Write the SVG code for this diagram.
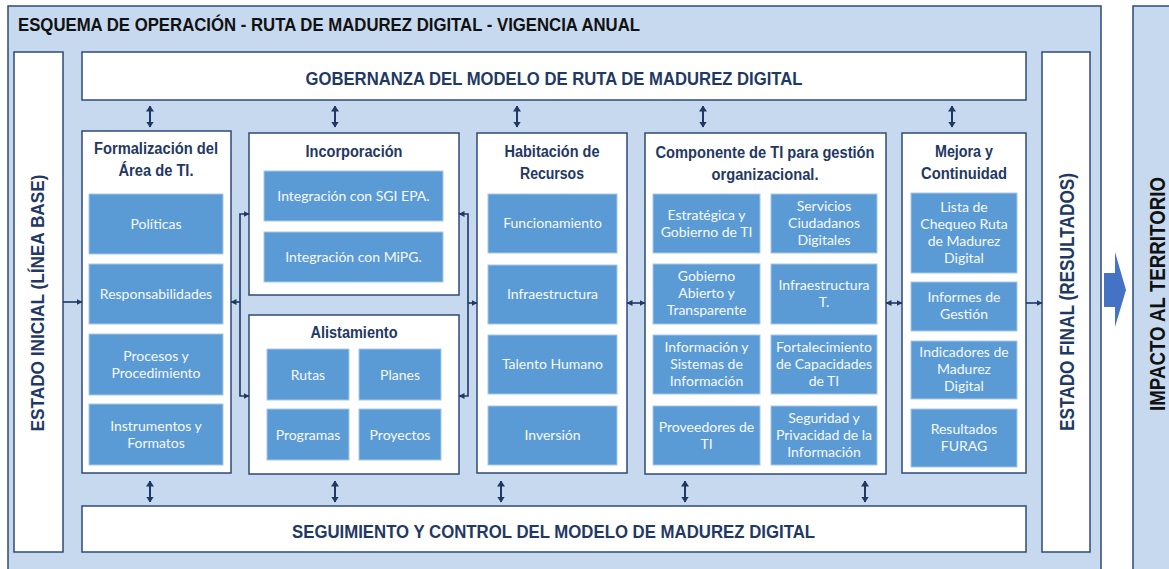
<svg xmlns="http://www.w3.org/2000/svg" width="1169" height="569" viewBox="0 0 1169 569">
<style>
.frame{fill:#c6d9ee;stroke:#2f4a7a;stroke-width:1.5}
.wbox{fill:#ffffff;stroke:#2f4a7a;stroke-width:1.5}
.ibox{fill:#5b9bd5;stroke:#a9c8e8;stroke-width:1}
.itxt{font-family:Lato,"Open Sans",sans-serif;font-size:14px;fill:#f6f9fc;text-anchor:middle}
.head{font-family:"Liberation Sans",Arial,sans-serif;font-weight:bold;font-size:16px;fill:#1f3864;text-anchor:middle}
.big{font-family:"Liberation Sans",Arial,sans-serif;font-weight:bold;fill:#1f3864;text-anchor:middle}
.conn{fill:none;stroke:#1f3864;stroke-width:1.6}
.vconn{fill:none;stroke:#1f3864;stroke-width:2}
</style>
<defs>
<marker id="ah" viewBox="0 0 6 6" refX="5.5" refY="3" markerWidth="6" markerHeight="6" markerUnits="userSpaceOnUse" orient="auto-start-reverse">
<path d="M0,0 L6,3 L0,6 z" fill="#1f3864"/>
</marker>
<marker id="av" viewBox="0 0 6 8" refX="5.5" refY="4" markerWidth="6" markerHeight="8" markerUnits="userSpaceOnUse" orient="auto-start-reverse">
<path d="M0,0 L6,4 L0,8 z" fill="#1f3864"/>
</marker>
</defs>

<g id="frame">
<rect class="frame" x="8" y="6" width="1093" height="580"/>
<text x="18" y="31" font-family="Liberation Sans,Arial,sans-serif" font-weight="bold" font-size="19" fill="#111" textLength="622" lengthAdjust="spacingAndGlyphs">ESQUEMA DE OPERACIÓN - RUTA DE MADUREZ DIGITAL - VIGENCIA ANUAL</text>
</g>

<g id="impacto">
<rect class="frame" x="1133" y="6" width="60" height="580"/>
<text class="big" transform="translate(1165,294) rotate(-90)" font-size="22" style="fill:#111" textLength="234" lengthAdjust="spacingAndGlyphs">IMPACTO AL TERRITORIO</text>
</g>

<g id="flecha-impacto">
<polygon points="1104,273 1115,273 1115,252 1126,290 1115,327 1115,307 1104,307" fill="#4472c4"/>
</g>

<g id="estado-inicial">
<rect class="wbox" x="14" y="52" width="49" height="500"/>
<text class="big" transform="translate(44,303) rotate(-90)" font-size="19" textLength="257" lengthAdjust="spacingAndGlyphs">ESTADO INICIAL (LÍNEA BASE)</text>
</g>

<g id="estado-final">
<rect class="wbox" x="1042" y="52" width="48" height="500"/>
<text class="big" transform="translate(1074,302) rotate(-90)" font-size="20" textLength="258" lengthAdjust="spacingAndGlyphs">ESTADO FINAL (RESULTADOS)</text>
</g>

<g id="gobernanza">
<rect class="wbox" x="82" y="52" width="944" height="48"/>
<text class="big" x="554" y="85" font-size="19" textLength="497" lengthAdjust="spacingAndGlyphs">GOBERNANZA DEL MODELO DE RUTA DE MADUREZ DIGITAL</text>
</g>

<g id="seguimiento">
<rect class="wbox" x="82" y="506" width="944" height="46"/>
<text class="big" x="553.5" y="538" font-size="19" textLength="523" lengthAdjust="spacingAndGlyphs">SEGUIMIENTO Y CONTROL DEL MODELO DE MADUREZ DIGITAL</text>
</g>

<g id="formalizacion">
<rect class="wbox" x="82" y="131" width="149" height="342"/>
<text class="head" x="156" y="154" textLength="124" lengthAdjust="spacingAndGlyphs">Formalización del</text>
<text class="head" x="156" y="176" textLength="75" lengthAdjust="spacingAndGlyphs">Área de TI.</text>
<rect class="ibox" x="89" y="194" width="134" height="60"/>
<text class="itxt" x="156" y="229">Políticas</text>
<rect class="ibox" x="89" y="264" width="134" height="60"/>
<text class="itxt" x="156" y="299">Responsabilidades</text>
<rect class="ibox" x="89" y="334" width="134" height="61"/>
<text class="itxt" x="156" y="361">Procesos y<tspan x="156" dy="17">Procedimiento</tspan></text>
<rect class="ibox" x="89" y="404" width="134" height="61"/>
<text class="itxt" x="156" y="431">Instrumentos y<tspan x="156" dy="17">Formatos</tspan></text>
</g>

<g id="incorporacion">
<rect class="wbox" x="249" y="133" width="210" height="162"/>
<text class="head" x="354" y="157" textLength="97" lengthAdjust="spacingAndGlyphs">Incorporación</text>
<rect class="ibox" x="264" y="171" width="179" height="50"/>
<text class="itxt" x="353.5" y="201">Integración con SGI EPA.</text>
<rect class="ibox" x="264" y="232" width="179" height="50"/>
<text class="itxt" x="353.5" y="262">Integración con MiPG.</text>
</g>

<g id="alistamiento">
<rect class="wbox" x="249" y="315" width="210" height="159"/>
<text class="head" x="354" y="338" textLength="87" lengthAdjust="spacingAndGlyphs">Alistamiento</text>
<rect class="ibox" x="267" y="349" width="82" height="51"/>
<text class="itxt" x="308" y="380">Rutas</text>
<rect class="ibox" x="359" y="349" width="82" height="51"/>
<text class="itxt" x="400" y="380">Planes</text>
<rect class="ibox" x="267" y="409" width="82" height="51"/>
<text class="itxt" x="308" y="440">Programas</text>
<rect class="ibox" x="359" y="409" width="82" height="51"/>
<text class="itxt" x="400" y="440">Proyectos</text>
</g>

<g id="habitacion">
<rect class="wbox" x="477" y="133" width="150" height="340"/>
<text class="head" x="552" y="157" textLength="95" lengthAdjust="spacingAndGlyphs">Habitación de</text>
<text class="head" x="552" y="179" textLength="64" lengthAdjust="spacingAndGlyphs">Recursos</text>
<rect class="ibox" x="488" y="194" width="129" height="59"/>
<text class="itxt" x="552.5" y="228">Funcionamiento</text>
<rect class="ibox" x="488" y="265" width="129" height="59"/>
<text class="itxt" x="552.5" y="299">Infraestructura</text>
<rect class="ibox" x="488" y="335" width="129" height="59"/>
<text class="itxt" x="552.5" y="369">Talento Humano</text>
<rect class="ibox" x="488" y="406" width="129" height="59"/>
<text class="itxt" x="552.5" y="440">Inversión</text>
</g>

<g id="componente">
<rect class="wbox" x="645" y="133" width="241" height="341"/>
<text class="head" x="765" y="158" textLength="219" lengthAdjust="spacingAndGlyphs">Componente de TI para gestión</text>
<text class="head" x="765" y="180" textLength="107" lengthAdjust="spacingAndGlyphs">organizacional.</text>
<rect class="ibox" x="653" y="194" width="107" height="59"/>
<text class="itxt" x="706.5" y="220">Estratégica y<tspan x="706.5" dy="17">Gobierno de TI</tspan></text>
<rect class="ibox" x="771" y="194" width="106" height="59"/>
<text class="itxt" x="824" y="211">Servicios<tspan x="824" dy="17">Ciudadanos</tspan><tspan x="824" dy="17">Digitales</tspan></text>
<rect class="ibox" x="653" y="264" width="107" height="60"/>
<text class="itxt" x="706.5" y="281">Gobierno<tspan x="706.5" dy="17">Abierto y</tspan><tspan x="706.5" dy="17">Transparente</tspan></text>
<rect class="ibox" x="771" y="264" width="106" height="60"/>
<text class="itxt" x="824" y="290">Infraestructura<tspan x="824" dy="17">T.</tspan></text>
<rect class="ibox" x="653" y="335" width="107" height="59"/>
<text class="itxt" x="706.5" y="352">Información y<tspan x="706.5" dy="17">Sistemas de</tspan><tspan x="706.5" dy="17">Información</tspan></text>
<rect class="ibox" x="771" y="335" width="106" height="59"/>
<text class="itxt" x="824" y="352">Fortalecimiento<tspan x="824" dy="17">de Capacidades</tspan><tspan x="824" dy="17">de TI</tspan></text>
<rect class="ibox" x="653" y="406" width="107" height="59"/>
<text class="itxt" x="706.5" y="432">Proveedores de<tspan x="706.5" dy="17">TI</tspan></text>
<rect class="ibox" x="771" y="406" width="106" height="59"/>
<text class="itxt" x="824" y="423">Seguridad y<tspan x="824" dy="17">Privacidad de la</tspan><tspan x="824" dy="17">Información</tspan></text>
</g>

<g id="mejora">
<rect class="wbox" x="902" y="133" width="124" height="340"/>
<text class="head" x="964" y="157" textLength="58" lengthAdjust="spacingAndGlyphs">Mejora y</text>
<text class="head" x="964" y="179" textLength="86" lengthAdjust="spacingAndGlyphs">Continuidad</text>
<rect class="ibox" x="911" y="193" width="106" height="80"/>
<text class="itxt" x="964" y="212">Lista de<tspan x="964" dy="17">Chequeo Ruta</tspan><tspan x="964" dy="17">de Madurez</tspan><tspan x="964" dy="17">Digital</tspan></text>
<rect class="ibox" x="911" y="282" width="106" height="49"/>
<text class="itxt" x="964" y="302">Informes de<tspan x="964" dy="17">Gestión</tspan></text>
<rect class="ibox" x="911" y="341" width="106" height="58"/>
<text class="itxt" x="964" y="357">Indicadores de<tspan x="964" dy="17">Madurez</tspan><tspan x="964" dy="17">Digital</tspan></text>
<rect class="ibox" x="911" y="409" width="106" height="58"/>
<text class="itxt" x="964" y="434">Resultados<tspan x="964" dy="17">FURAG</tspan></text>
</g>

<g id="connectors">
<path class="vconn" d="M150,106 V127" marker-start="url(#av)" marker-end="url(#av)"/>
<path class="vconn" d="M335,106 V127" marker-start="url(#av)" marker-end="url(#av)"/>
<path class="vconn" d="M517,106 V127" marker-start="url(#av)" marker-end="url(#av)"/>
<path class="vconn" d="M703,106 V127" marker-start="url(#av)" marker-end="url(#av)"/>
<path class="vconn" d="M952,106 V127" marker-start="url(#av)" marker-end="url(#av)"/>
<path class="vconn" d="M150,481 V502" marker-start="url(#av)" marker-end="url(#av)"/>
<path class="vconn" d="M335,481 V502" marker-start="url(#av)" marker-end="url(#av)"/>
<path class="vconn" d="M501,481 V502" marker-start="url(#av)" marker-end="url(#av)"/>
<path class="vconn" d="M685,481 V502" marker-start="url(#av)" marker-end="url(#av)"/>
<path class="vconn" d="M865,481 V502" marker-start="url(#av)" marker-end="url(#av)"/>
<path class="conn" d="M63,302 H82" marker-end="url(#ah)"/>
<path class="conn" d="M249,214 H240 V396 H249" marker-start="url(#ah)" marker-end="url(#ah)"/>
<path class="conn" d="M240,302 H231" marker-end="url(#ah)"/>
<path class="conn" d="M459,214 H468 V396 H459" marker-start="url(#ah)" marker-end="url(#ah)"/>
<path class="conn" d="M468,303 H477" marker-end="url(#ah)"/>
<path class="conn" d="M627,303 H645" marker-start="url(#ah)" marker-end="url(#ah)"/>
<path class="conn" d="M886,303 H902" marker-start="url(#ah)" marker-end="url(#ah)"/>
<path class="conn" d="M1026,303 H1042" marker-end="url(#ah)"/>
</g>
</svg>
